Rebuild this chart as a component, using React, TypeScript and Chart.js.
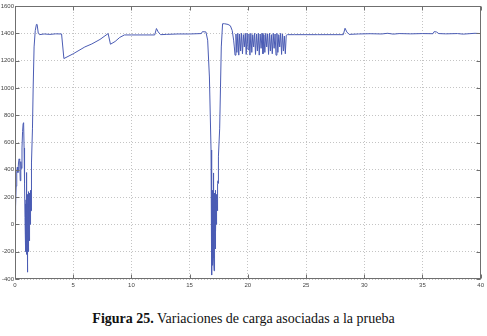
import React, { useEffect, useRef } from "react";
import { Chart, registerables } from "chart.js";

Chart.register(...registerables);

const xTicks = [0, 5, 10, 15, 20, 25, 30, 35, 40];
const yTicks = [-400, -200, 0, 200, 400, 600, 800, 1000, 1200, 1400, 1600];

// Start-up transient
const startTime = [0, 0.05, 0.1, 0.15, 0.2, 0.25, 0.3, 0.35, 0.4, 0.45, 0.5, 0.55, 0.6, 0.65, 0.7, 0.74, 0.78, 0.82, 0.86];
const startLoad = [20, 130, 280, 390, 420, 380, 450, 480, 470, 320, 460, 410, 560, 680, 740, 745, 560, 300, 50];

// First dense oscillation
const blob1Time = [
  0.88, 0.89, 0.9, 0.91, 0.92, 0.93, 0.94, 0.95, 0.96, 0.97, 0.98, 0.99, 1.0, 1.01, 1.02, 1.03, 1.04, 1.05, 1.06,
  1.07, 1.08, 1.09, 1.1, 1.11, 1.12, 1.13, 1.14, 1.15, 1.16, 1.17, 1.18, 1.19, 1.2, 1.21, 1.22, 1.23, 1.24, 1.25,
  1.26, 1.27, 1.28, 1.29, 1.3, 1.31, 1.32, 1.33, 1.34, 1.35, 1.36, 1.37, 1.38, 1.39, 1.4, 1.41, 1.42, 1.43, 1.44,
];
const blob1Load = [
  -50, 150, -200, 50, 100, -100, -150, 180, 200, -120, -180, 250, 380, 0, -220, 120, 150, -280, -350,
  100, 220, -180, -250, 200, 180, -150, -200, 220, 240, -100, -150, 180, 200, -80, -120, 160, 180, -40,
  -60, 200, 230, 20, 0, 180, 160, 60, 50, 220, 250, 120, 100, 260, 300, 220, 200, 380, 450,
];

// Plateau, ramp and second drop
const midTime = [
  1.5, 1.56, 1.64, 1.74, 1.84, 1.9, 2.0, 2.1, 2.5, 3.0, 3.5, 4.0, 4.2, 5.0, 6.0, 6.6, 7.3, 8.0, 8.2, 8.6, 9.0,
  9.4, 10, 11, 12.0, 12.15, 12.3, 12.5, 13, 14, 15, 16.0, 16.1, 16.4, 16.55, 16.7, 16.84,
];
const midLoad = [
  700, 1000, 1300, 1420, 1465, 1465, 1400, 1390, 1395, 1392, 1396, 1395, 1215, 1250, 1300, 1322, 1355, 1398, 1320, 1340, 1370,
  1388, 1388, 1388, 1388, 1435, 1410, 1390, 1392, 1395, 1395, 1398, 1412, 1410, 1350, 1080, 545,
];

// Second dense oscillation
const blob2Time = [
  16.86, 16.87, 16.88, 16.89, 16.9, 16.91, 16.92, 16.93, 16.94, 16.95, 16.96, 16.97, 16.98, 16.99, 17.0, 17.01,
  17.02, 17.03, 17.04, 17.05, 17.06, 17.07, 17.08, 17.09, 17.1, 17.11, 17.12, 17.13, 17.14, 17.15, 17.16, 17.17,
  17.18, 17.19, 17.2, 17.21, 17.22, 17.23, 17.24, 17.25, 17.26, 17.27, 17.28, 17.29, 17.3, 17.31, 17.32, 17.33,
  17.34, 17.35, 17.36, 17.37, 17.38, 17.39, 17.4, 17.41, 17.42, 17.43, 17.44, 17.45, 17.46, 17.47, 17.48, 17.49, 17.5,
];
const blob2Load = [
  100, -100, -250, 50, 150, -200, -371, 80, 200, -150, -300, 150, 250, -120, -200, 180,
  240, 300, 377, -50, -150, 120, 220, -250, -340, 100, 200, -150, -220, 150, 230, -60,
  -100, 200, 250, -120, -180, 150, 180, -20, -50, 180, 220, 40, 0, 160, 150, 80,
  60, 190, 200, 120, 100, 230, 240, 200, 260, 300, 320, 360, 380, 300, 420, 350, 500,
];

// Recovery
const recTime = [17.58, 17.65, 17.72, 17.83, 18.0, 18.3, 18.5, 18.66, 18.78, 18.84];
const recLoad = [700, 1000, 1300, 1470, 1470, 1465, 1455, 1420, 1350, 1300];

// Oscillation around 1300-1400
const oscTime = [
  18.9, 18.98, 19.06, 19.14, 19.22, 19.3, 19.38, 19.46, 19.54, 19.62, 19.7, 19.78, 19.86, 19.94, 20.02,
  20.1, 20.18, 20.26, 20.34, 20.42, 20.5, 20.58, 20.66, 20.74, 20.82, 20.9, 20.98, 21.06, 21.14, 21.22,
  21.3, 21.38, 21.46, 21.54, 21.62, 21.7, 21.78, 21.86, 21.94, 22.02, 22.1, 22.18, 22.26, 22.34, 22.42,
  22.5, 22.58, 22.66, 22.74, 22.82, 22.9, 22.98, 23.06, 23.14, 23.22, 23.3, 23.4,
];
const oscLoad = [
  1240, 1395, 1260, 1400, 1240, 1395, 1270, 1400, 1250, 1390, 1300, 1400, 1245, 1400, 1280,
  1395, 1240, 1400, 1260, 1390, 1300, 1400, 1245, 1395, 1270, 1400, 1240, 1395, 1290, 1400,
  1250, 1390, 1260, 1400, 1300, 1395, 1245, 1400, 1270, 1390, 1250, 1400, 1290, 1395, 1240,
  1400, 1260, 1390, 1300, 1400, 1245, 1395, 1270, 1380, 1250, 1385, 1390,
];

// Final steady state
const endTime = [24, 26, 28.2, 28.35, 28.5, 28.7, 29.5, 30.5, 31.5, 32, 32.5, 33, 34, 35, 35.9, 36.0, 36.2, 36.4, 37, 38, 38.5, 39, 39.5, 40];
const endLoad = [1390, 1390, 1390, 1437, 1410, 1392, 1395, 1397, 1395, 1400, 1394, 1398, 1396, 1398, 1397, 1412, 1410, 1398, 1396, 1398, 1394, 1397, 1400, 1398];

const time = [...startTime, ...blob1Time, ...midTime, ...blob2Time, ...recTime, ...oscTime, ...endTime];
const load = [...startLoad, ...blob1Load, ...midLoad, ...blob2Load, ...recLoad, ...oscLoad, ...endLoad];

const framePlugin = {
  id: "frame",
  afterDraw(chart: any) {
    const { ctx, chartArea: a, scales } = chart;
    ctx.save();
    ctx.strokeStyle = "#6f6f6f";
    ctx.lineWidth = 1;
    const l = Math.round(a.left) + 0.5;
    const r = Math.round(a.right) - 0.5;
    const t = Math.round(a.top) + 0.5;
    const b = Math.round(a.bottom) - 0.5;
    ctx.strokeRect(l, t, r - l, b - t);
    ctx.beginPath();
    xTicks.forEach((v) => {
      const px = Math.round(scales.x.getPixelForValue(v)) + 0.5;
      ctx.moveTo(px, b);
      ctx.lineTo(px, b - 4);
      ctx.moveTo(px, t);
      ctx.lineTo(px, t + 4);
    });
    yTicks.forEach((v) => {
      const py = Math.round(scales.y.getPixelForValue(v)) + 0.5;
      ctx.moveTo(l, py);
      ctx.lineTo(l + 4, py);
      ctx.moveTo(r, py);
      ctx.lineTo(r - 4, py);
    });
    ctx.stroke();
    ctx.restore();
  },
};

export default function App() {
  const ref = useRef<HTMLCanvasElement | null>(null);

  useEffect(() => {
    if (!ref.current) return;
    const chart = new Chart(ref.current, {
      type: "line",
      data: {
        datasets: [
          {
            label: "Carga",
            data: time.map((t, i) => ({ x: t, y: load[i] })),
            borderColor: "#4b5cb4",
            borderWidth: 1,
            pointRadius: 0,
            tension: 0,
            fill: false,
          },
        ],
      },
      options: {
        responsive: false,
        animation: false,
        layout: { padding: { top: 6, right: 5, left: 0, bottom: 0 } },
        plugins: { legend: { display: false }, tooltip: { enabled: false }, title: { display: false } },
        scales: {
          x: {
            type: "linear",
            min: 0,
            max: 40,
            afterFit: (s: any) => {
              s.height = 19;
            },
            afterBuildTicks: (s: any) => {
              s.ticks = xTicks.map((v) => ({ value: v }));
            },
            ticks: {
              padding: 3,
              color: "#444",
              font: { family: "Liberation Sans", size: 6 },
              maxRotation: 0,
              callback: (v: any) => String(v),
            },
            grid: { color: "#c4c4c4", drawTicks: false },
            border: { display: false, dash: [1, 2] },
          },
          y: {
            min: -400,
            max: 1600,
            afterFit: (s: any) => {
              s.width = 15;
            },
            afterBuildTicks: (s: any) => {
              s.ticks = yTicks.map((v) => ({ value: v }));
            },
            ticks: {
              padding: 1,
              color: "#444",
              font: { family: "Liberation Sans", size: 6 },
              callback: (v: any) => String(v),
            },
            grid: { color: "#c4c4c4", drawTicks: false },
            border: { display: false, dash: [1, 2] },
          },
        },
      },
      plugins: [framePlugin],
    });
    return () => chart.destroy();
  }, []);

  return (
    <div style={{ position: "absolute", left: 0, top: 0, width: 487, height: 336, background: "#fff" }}>
      <canvas ref={ref} width={487} height={298} style={{ display: "block" }} />
      <div
        style={{
          position: "absolute",
          left: 0,
          top: 311,
          width: 487,
          textAlign: "center",
          fontFamily: "'Liberation Serif', serif",
          fontSize: 14,
          color: "#111",
          lineHeight: "16px",
        }}
      >
        <b>Figura 25.</b> Variaciones de carga asociadas a la prueba
      </div>
    </div>
  );
}
